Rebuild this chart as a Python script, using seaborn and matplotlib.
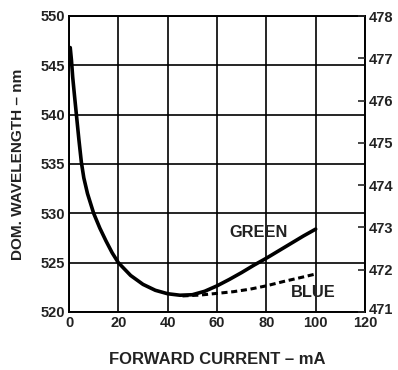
import seaborn as sns
import matplotlib.pyplot as plt
from matplotlib.transforms import ScaledTranslation

# forward current (mA) vs dominant wavelength (nm)
green_current = [0.5, 1, 1.5, 2.2, 3, 4, 5, 6, 7.5, 10, 12.5, 15, 17.5, 20, 25, 30, 35, 40,
                 45, 50, 55, 60, 65, 70, 75, 80, 85, 90, 95, 100]
green_wavelength = [546.8, 545.5, 543.8, 542.0, 540.0, 537.5, 535.2, 533.6, 532.0, 530.0, 528.5,
                    527.2, 526.0, 525.0, 523.7, 522.8, 522.2, 521.85, 521.7, 521.75, 522.1, 522.65,
                    523.3, 524.0, 524.75, 525.45, 526.2, 526.95, 527.7, 528.4]

blue_current = [46, 53.1, 59.9, 66.6, 73.4, 80.1, 86.9, 93.6, 99.4]
blue_wavelength = [471.38, 471.40, 471.44, 471.48, 471.54, 471.62, 471.72, 471.81, 471.89]

x_ticks = [0, 20, 40, 60, 80, 100, 120]
left_ticks = [520, 525, 530, 535, 540, 545, 550]
right_ticks = [471, 472, 473, 474, 475, 476, 477, 478]

sns.set_style('white')
plt.rcParams['font.family'] = ['Liberation Sans', 'DejaVu Sans']
plt.rcParams['font.weight'] = 'bold'
txt = '#222222'

fig = plt.figure(figsize=(3.98, 3.70), dpi=100)
ax = fig.add_axes([69 / 398, 58 / 370, 296 / 398, 296 / 370])

sns.lineplot(x=green_current, y=green_wavelength, ax=ax, color='black', lw=2.6)
ax.set_xlim(0, 120)
ax.set_ylim(520, 550)
ax.set_xticks(x_ticks)
ax.set_yticks(left_ticks)
ax.grid(True, color='black', lw=1.2)
ax.tick_params(length=0, labelsize=10.5, labelcolor=txt, pad=3)
for s in ax.spines.values():
    s.set_color('black')
    s.set_linewidth(1.4)
ax.set_xlabel('FORWARD CURRENT – mA', fontsize=12, color=txt, fontweight='bold', labelpad=16)
ax.set_ylabel('DOM. WAVELENGTH – nm', fontsize=11.1, color=txt, fontweight='bold', labelpad=11)

ax.text(77, 528.1, 'GREEN', ha='center', va='center', fontsize=11.8, color=txt, fontweight='bold')
ax.text(99, 522.0, 'BLUE', ha='center', va='center', fontsize=11.8, color=txt, fontweight='bold')

ax2 = ax.twinx()
sns.lineplot(x=blue_current, y=blue_wavelength, ax=ax2, color='black', lw=2.2, linestyle=(0, (2, 1.2)))
ax2.set_ylim(471, 478)
ax2.set_yticks(right_ticks)
ax2.tick_params(axis='y', direction='in', length=5, width=1.2, labelsize=10.5, labelcolor=txt, pad=3)
ax2.grid(False)
for s in ax2.spines.values():
    s.set_visible(False)

# the bottom right label sits a little higher in the original
lab = ax2.get_yticklabels()[0]
lab.set_transform(lab.get_transform() + ScaledTranslation(0, 2.5 / 72, fig.dpi_scale_trans))

fig.savefig('out.png', dpi=100)
